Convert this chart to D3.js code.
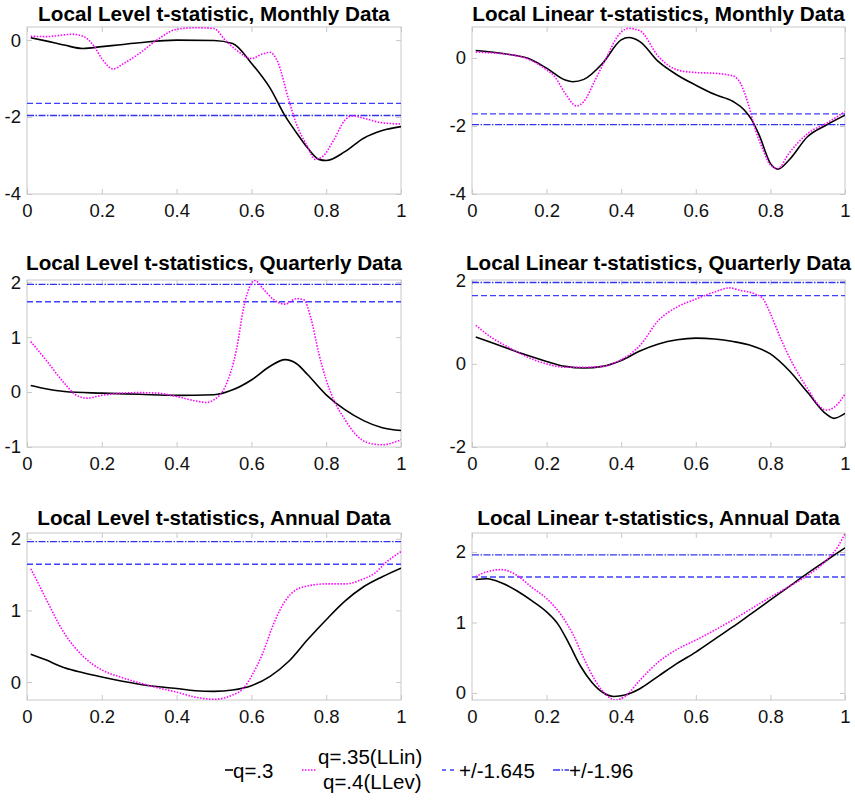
<!DOCTYPE html>
<html>
<head>
<meta charset="utf-8">
<script src="https://cdn.jsdelivr.net/npm/d3@7"></script>
<style>
  body { margin: 0; background: #fff; }
  svg { font-family: "Liberation Sans", Arial, sans-serif; }
</style>
</head>
<body>
<div id="chart"></div>
<script>
// x ticks shared by every panel
var xTicks = [0, 0.2, 0.4, 0.6, 0.8, 1];

var titles = [
  "Local Level t-statistic, Monthly Data",
  "Local Linear t-statistics, Monthly Data",
  "Local Level t-statistics, Quarterly Data",
  "Local Linear t-statistics, Quarterly Data",
  "Local Level t-statistics, Annual Data",
  "Local Linear t-statistics, Annual Data"
];

var yTicks = [[-4, -2, 0], [-4, -2, 0], [-1, 0, 1, 2], [-2, 0, 2], [0, 1, 2], [0, 1, 2]];
var yDomains = [[-4, 0.34], [-4, 0.91], [-1, 2.04], [-2, 2.02], [-0.25, 2.08], [-0.1, 2.27]];
// sign of the +/-1.645 and +/-1.96 bands drawn in each panel
var critSign = [-1, -1, 1, 1, 1, 1];
var critValues = [1.645, 1.96];

// q=.3 (black) and q=.4 / q=.35 (magenta)
var llMonthlyA = [[0.01,0.06],[0.05,-0.02],[0.1,-0.13],[0.15,-0.22],[0.2,-0.17],[0.25,-0.12],[0.3,-0.07],[0.4,0],[0.5,-0.01],[0.55,-0.09],[0.6,-0.6],[0.65,-1.25],[0.69,-1.97],[0.72,-2.4],[0.75,-2.8],[0.78,-3.1],[0.8,-3.13],[0.85,-2.9],[0.9,-2.55],[0.95,-2.35],[1,-2.25]];
var llMonthlyB = [[0.01,0.1],[0.05,0.09],[0.12,0.15],[0.15,0.1],[0.18,-0.17],[0.2,-0.48],[0.23,-0.75],[0.26,-0.6],[0.3,-0.35],[0.35,0.02],[0.4,0.28],[0.45,0.32],[0.5,0.3],[0.53,0],[0.56,-0.26],[0.6,-0.48],[0.63,-0.36],[0.65,-0.32],[0.67,-0.56],[0.7,-1.56],[0.72,-2.17],[0.75,-2.77],[0.77,-3.1],[0.79,-3.03],[0.82,-2.6],[0.85,-2.08],[0.87,-1.97],[0.9,-2.03],[0.95,-2.15],[1,-2.18]];

var linMonthlyA = [[0.01,0.22],[0.1,0.1],[0.15,-0.01],[0.2,-0.3],[0.25,-0.65],[0.27,-0.7],[0.3,-0.63],[0.35,-0.16],[0.4,0.53],[0.42,0.6],[0.45,0.48],[0.5,-0.11],[0.55,-0.5],[0.6,-0.8],[0.65,-1.07],[0.7,-1.28],[0.73,-1.53],[0.75,-1.82],[0.77,-2.27],[0.8,-3.1],[0.82,-3.27],[0.85,-3.0],[0.9,-2.31],[0.95,-1.97],[1,-1.68]];
var linMonthlyB = [[0.01,0.17],[0.1,0.1],[0.15,-0.03],[0.2,-0.35],[0.22,-0.53],[0.25,-1.04],[0.28,-1.41],[0.3,-1.28],[0.33,-0.65],[0.36,0],[0.39,0.63],[0.42,0.87],[0.45,0.8],[0.5,0.04],[0.55,-0.35],[0.6,-0.43],[0.65,-0.45],[0.7,-0.53],[0.72,-0.75],[0.74,-1.33],[0.76,-2.12],[0.78,-2.7],[0.8,-3.15],[0.82,-3.25],[0.85,-2.8],[0.9,-2.22],[0.95,-1.92],[1,-1.58]];

var llQuarterlyA = [[0.01,0.12],[0.05,0.06],[0.1,0.01],[0.2,-0.02],[0.3,-0.04],[0.4,-0.06],[0.5,-0.05],[0.55,0.04],[0.6,0.22],[0.65,0.47],[0.69,0.59],[0.72,0.52],[0.75,0.32],[0.8,-0.05],[0.85,-0.32],[0.9,-0.52],[0.95,-0.65],[1,-0.7]];
var llQuarterlyB = [[0.01,0.92],[0.05,0.59],[0.1,0.16],[0.13,-0.05],[0.16,-0.11],[0.2,-0.06],[0.25,-0.02],[0.3,-0.01],[0.35,-0.02],[0.4,-0.08],[0.45,-0.16],[0.48,-0.19],[0.5,-0.14],[0.53,0.1],[0.56,0.77],[0.58,1.56],[0.6,1.98],[0.61,2.03],[0.63,1.89],[0.66,1.68],[0.69,1.6],[0.72,1.7],[0.74,1.68],[0.76,1.32],[0.78,0.71],[0.8,0.22],[0.82,-0.14],[0.85,-0.5],[0.88,-0.78],[0.91,-0.92],[0.95,-0.96],[0.98,-0.92],[1,-0.87]];

var linQuarterlyA = [[0.01,0.65],[0.05,0.52],[0.1,0.36],[0.15,0.2],[0.2,0.06],[0.25,-0.06],[0.3,-0.1],[0.35,-0.06],[0.4,0.08],[0.45,0.31],[0.5,0.48],[0.55,0.58],[0.6,0.62],[0.65,0.6],[0.7,0.54],[0.75,0.44],[0.8,0.24],[0.85,-0.16],[0.9,-0.69],[0.95,-1.21],[0.97,-1.31],[1,-1.19]];
var linQuarterlyB = [[0.01,0.93],[0.05,0.65],[0.1,0.39],[0.15,0.16],[0.2,0],[0.25,-0.08],[0.3,-0.08],[0.35,-0.06],[0.4,0.1],[0.45,0.44],[0.5,1.05],[0.55,1.37],[0.6,1.56],[0.65,1.73],[0.69,1.83],[0.72,1.77],[0.76,1.68],[0.78,1.57],[0.8,1.21],[0.83,0.56],[0.86,0],[0.9,-0.6],[0.93,-1.0],[0.95,-1.11],[0.97,-1.05],[1,-0.73]];

var llAnnualA = [[0.01,0.39],[0.05,0.31],[0.1,0.2],[0.15,0.13],[0.2,0.07],[0.3,-0.03],[0.4,-0.09],[0.45,-0.12],[0.5,-0.13],[0.55,-0.11],[0.6,-0.05],[0.65,0.08],[0.7,0.29],[0.75,0.59],[0.8,0.87],[0.85,1.13],[0.9,1.33],[0.95,1.47],[1,1.59]];
var llAnnualB = [[0.01,1.58],[0.03,1.38],[0.05,1.17],[0.1,0.68],[0.15,0.36],[0.2,0.17],[0.25,0.07],[0.3,-0.01],[0.35,-0.08],[0.4,-0.14],[0.45,-0.21],[0.5,-0.24],[0.55,-0.18],[0.58,-0.08],[0.6,0.08],[0.63,0.4],[0.66,0.82],[0.69,1.13],[0.72,1.29],[0.75,1.34],[0.8,1.37],[0.85,1.37],[0.9,1.44],[0.93,1.52],[0.96,1.67],[1,1.82]];

var linAnnualA = [[0.01,1.61],[0.04,1.62],[0.08,1.56],[0.12,1.45],[0.16,1.31],[0.2,1.15],[0.23,0.98],[0.26,0.7],[0.29,0.39],[0.32,0.16],[0.35,0.01],[0.38,-0.05],[0.41,-0.03],[0.45,0.06],[0.5,0.24],[0.55,0.42],[0.6,0.58],[0.65,0.76],[0.7,0.94],[0.75,1.13],[0.8,1.32],[0.85,1.51],[0.9,1.7],[0.95,1.88],[1,2.06]];
var linAnnualB = [[0.01,1.65],[0.04,1.72],[0.08,1.75],[0.12,1.67],[0.16,1.5],[0.2,1.34],[0.24,1.1],[0.27,0.84],[0.3,0.49],[0.33,0.18],[0.36,-0.03],[0.385,-0.1],[0.41,-0.05],[0.45,0.18],[0.5,0.44],[0.55,0.62],[0.6,0.75],[0.65,0.89],[0.7,1.04],[0.75,1.2],[0.8,1.36],[0.85,1.51],[0.9,1.67],[0.95,1.88],[0.98,2.07],[1,2.26]];

var seriesA = [llMonthlyA, linMonthlyA, llQuarterlyA, linQuarterlyA, llAnnualA, linAnnualA];
var seriesB = [llMonthlyB, linMonthlyB, llQuarterlyB, linQuarterlyB, llAnnualB, linAnnualB];

// layout
var W = 855, H = 800;
var cols = [[27, 401], [472, 845]];
var rows = [[27, 194], [280, 447], [533, 700]];
var titleY = [21, 270, 525];

var frameColor = "#c8c8c8";
var blue = "#3f3fff";
var blueDark = "#3434ee";
var magenta = "#ff00ff";

var svg = d3.select("#chart").append("svg")
    .attr("width", W)
    .attr("height", H);

var fmt = function (d) { return String(d); };

titles.forEach(function (title, i) {
    var c = cols[i % 2], r = rows[Math.floor(i / 2)];
    var x = d3.scaleLinear().domain([0, 1]).range(c);
    var y = d3.scaleLinear().domain(yDomains[i]).range([r[1], r[0]]);

    var g = svg.append("g");

    g.append("clipPath").attr("id", "clip" + i)
      .append("rect")
        .attr("x", c[0]).attr("y", r[0])
        .attr("width", c[1] - c[0]).attr("height", r[1] - r[0]);

    // ticks: bottom with labels, top and right only marks (box on)
    var bottom = g.append("g")
        .attr("transform", "translate(0," + r[1] + ")")
        .call(d3.axisBottom(x).tickValues(xTicks).tickFormat(fmt).tickSize(-5).tickSizeOuter(0).tickPadding(10));
    var top = g.append("g")
        .attr("transform", "translate(0," + r[0] + ")")
        .call(d3.axisTop(x).tickValues(xTicks).tickFormat("").tickSize(-5).tickSizeOuter(0));
    var left = g.append("g")
        .attr("transform", "translate(" + c[0] + ",0)")
        .call(d3.axisLeft(y).tickValues(yTicks[i]).tickFormat(fmt).tickSize(-5).tickSizeOuter(0).tickPadding(6));
    var right = g.append("g")
        .attr("transform", "translate(" + c[1] + ",0)")
        .call(d3.axisRight(y).tickValues(yTicks[i]).tickFormat("").tickSize(-5).tickSizeOuter(0));

    [bottom, top, left, right].forEach(function (a) {
        a.select(".domain").remove();
        a.selectAll(".tick line").attr("stroke", frameColor);
        a.selectAll(".tick text")
            .attr("fill", "#111")
            .style("font-size", "18.5px")
            .style("font-family", "'Liberation Sans', Arial, sans-serif");
    });

    g.append("rect")
        .attr("x", c[0]).attr("y", r[0])
        .attr("width", c[1] - c[0]).attr("height", r[1] - r[0])
        .attr("fill", "none")
        .attr("stroke", frameColor)
        .attr("stroke-width", 1);

    var plot = g.append("g").attr("clip-path", "url(#clip" + i + ")");

    // critical value lines
    plot.append("line")
        .attr("x1", x(0)).attr("x2", x(1))
        .attr("y1", y(critSign[i] * critValues[0])).attr("y2", y(critSign[i] * critValues[0]))
        .attr("stroke", blue).attr("stroke-width", 1.4)
        .attr("stroke-dasharray", "6,3");
    plot.append("line")
        .attr("x1", x(0)).attr("x2", x(1))
        .attr("y1", y(critSign[i] * critValues[1])).attr("y2", y(critSign[i] * critValues[1]))
        .attr("stroke", blueDark).attr("stroke-width", 1.4)
        .attr("stroke-dasharray", "7,1.5,1.5,1.5");

    var line = d3.line()
        .x(function (d) { return x(d[0]); })
        .y(function (d) { return y(d[1]); })
        .curve(d3.curveMonotoneX);

    plot.append("path")
        .datum(seriesA[i])
        .attr("d", line)
        .attr("fill", "none")
        .attr("stroke", "#000")
        .attr("stroke-width", 1.6);

    plot.append("path")
        .datum(seriesB[i])
        .attr("d", line)
        .attr("fill", "none")
        .attr("stroke", magenta)
        .attr("stroke-width", 1.6)
        .attr("stroke-dasharray", "1.5,1.5");

    g.append("text")
        .attr("x", (c[0] + c[1]) / 2)
        .attr("y", titleY[Math.floor(i / 2)])
        .attr("text-anchor", "middle")
        .style("font-size", "20.7px")
        .style("font-weight", "bold")
        .text(title);
});

// legend
var legend = svg.append("g").style("font-size", "20.5px");
var ly = 770;

legend.append("line").attr("x1", 225).attr("x2", 233).attr("y1", ly).attr("y2", ly)
    .attr("stroke", "#000").attr("stroke-width", 1.6);
legend.append("text").attr("x", 233).attr("y", 778).text("q=.3");

legend.append("line").attr("x1", 302).attr("x2", 316).attr("y1", ly).attr("y2", ly)
    .attr("stroke", magenta).attr("stroke-width", 1.6).attr("stroke-dasharray", "1.5,1.5");
legend.append("text").attr("x", 318).attr("y", 764).text("q=.35(LLin)");
legend.append("text").attr("x", 323).attr("y", 789).text("q=.4(LLev)");

legend.append("line").attr("x1", 442).attr("x2", 458).attr("y1", ly).attr("y2", ly)
    .attr("stroke", blue).attr("stroke-width", 1.4).attr("stroke-dasharray", "4,4");
legend.append("text").attr("x", 459).attr("y", 778).text("+/-1.645");

legend.append("line").attr("x1", 553).attr("x2", 569).attr("y1", ly).attr("y2", ly)
    .attr("stroke", blueDark).attr("stroke-width", 1.4).attr("stroke-dasharray", "7,1.5,1.5,1.5");
legend.append("text").attr("x", 569).attr("y", 778).text("+/-1.96");
</script>
</body>
</html>
